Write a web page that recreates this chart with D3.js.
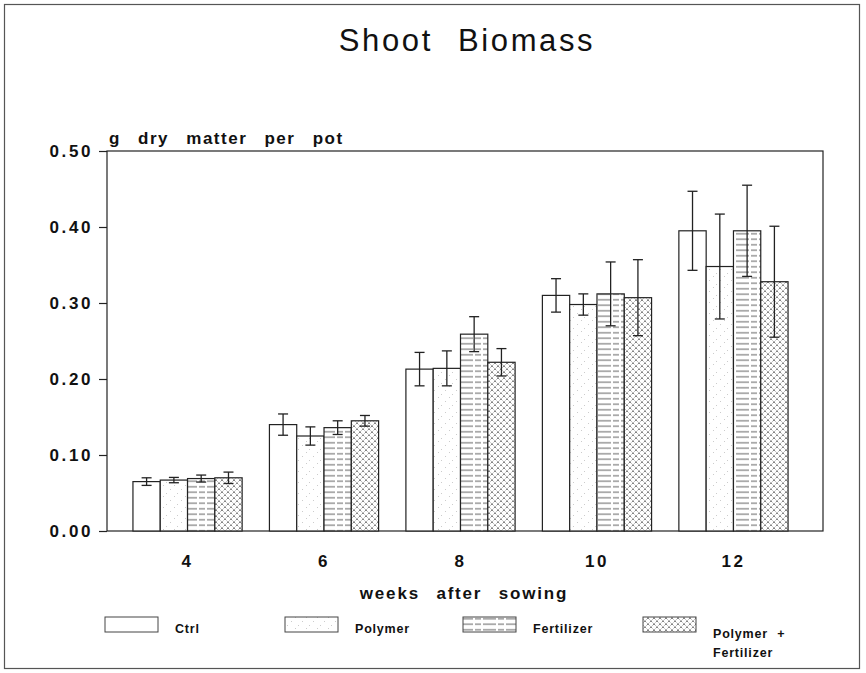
<!DOCTYPE html>
<html>
<head>
<meta charset="utf-8">
<script src="https://cdn.jsdelivr.net/npm/d3@7"></script>
<style>
  body { margin: 0; background: #fff; }
  svg { display: block; }
  text { font-family: "Liberation Sans", Arial, sans-serif; fill: #111; }
</style>
</head>
<body>
<div id="chart"></div>
<script>
// ---- data ----
const weeks = ["4", "6", "8", "10", "12"];
const treatments = ["Ctrl", "Polymer", "Fertilizer", "Polymer + Fertilizer"];
const ctrlMean = [0.065, 0.140, 0.213, 0.310, 0.395];
const ctrlErr = [0.005, 0.014, 0.022, 0.022, 0.052];
const polymerMean = [0.067, 0.125, 0.214, 0.298, 0.348];
const polymerErr = [0.0035, 0.012, 0.023, 0.014, 0.069];
const fertMean = [0.069, 0.136, 0.259, 0.312, 0.395];
const fertErr = [0.0046, 0.009, 0.023, 0.042, 0.060];
const polyFertMean = [0.070, 0.145, 0.222, 0.307, 0.328];
const polyFertErr = [0.0075, 0.007, 0.018, 0.050, 0.073];
const yTicks = [0, 0.1, 0.2, 0.3, 0.4, 0.5];

const means = [ctrlMean, polymerMean, fertMean, polyFertMean];
const errs = [ctrlErr, polymerErr, fertErr, polyFertErr];

const W = 866, H = 673;
const svg = d3.select("#chart").append("svg").attr("width", W).attr("height", H);

// patterns
const defs = svg.append("defs");
// Polymer: faint speckle
const p1 = defs.append("pattern").attr("id", "pat1").attr("patternUnits", "userSpaceOnUse")
  .attr("width", 11).attr("height", 11);
p1.append("rect").attr("width", 11).attr("height", 11).attr("fill", "#fff");
[[1,9],[5,5],[9,1]].forEach(([x,y]) => p1.append("rect").attr("x", x).attr("y", y)
  .attr("width", 1).attr("height", 1).attr("fill", "#ccc"));
// Fertilizer: horizontal dashed lines
const p2 = defs.append("pattern").attr("id", "pat2").attr("patternUnits", "userSpaceOnUse")
  .attr("width", 23).attr("height", 5.5);
p2.append("rect").attr("width", 23).attr("height", 5.5).attr("fill", "#fff");
p2.append("line").attr("x1", 0).attr("x2", 23).attr("y1", 2.75).attr("y2", 2.75)
  .attr("stroke", "#555").attr("stroke-width", 1).attr("stroke-dasharray", "13,2,6,2");
// Polymer + Fertilizer: dotted crosshatch
const p3 = defs.append("pattern").attr("id", "pat3").attr("patternUnits", "userSpaceOnUse")
  .attr("width", 6).attr("height", 6);
p3.append("rect").attr("width", 6).attr("height", 6).attr("fill", "#fff");
p3.append("path").attr("d", "M0,0 L6,6 M6,0 L0,6").attr("stroke", "#666")
  .attr("stroke-width", 0.9).attr("stroke-dasharray", "1.3,0.9");
const fills = ["#fff", "url(#pat1)", "url(#pat2)", "url(#pat3)"];

// outer frame
svg.append("rect").attr("x", 4.5).attr("y", 4.5).attr("width", 855).attr("height", 664)
  .attr("fill", "none").attr("stroke", "#555").attr("stroke-width", 1.2);

// title
svg.append("text").attr("x", 467).attr("y", 51).attr("text-anchor", "middle")
  .attr("font-size", 31).attr("letter-spacing", 2.6).attr("word-spacing", 14)
  .text("Shoot Biomass");

// scales
const plotL = 107, plotR = 823, plotT = 151, plotB = 531;
const y = d3.scaleLinear().domain([0, 0.5]).range([plotB, plotT]);
const x0 = d3.scaleBand().domain(weeks).range([119.3, 801.7]).paddingInner(0.2).paddingOuter(0.1);
const x1 = d3.scaleBand().domain(treatments).range([0, x0.bandwidth()]).padding(0);

// plot frame
svg.append("rect").attr("x", plotL).attr("y", plotT).attr("width", plotR - plotL).attr("height", plotB - plotT)
  .attr("fill", "none").attr("stroke", "#222").attr("stroke-width", 1.2);

// y axis
const yAxis = d3.axisLeft(y).tickValues(yTicks).tickFormat(d3.format(".2f")).tickSize(8).tickPadding(6);
const gy = svg.append("g").attr("transform", `translate(${plotL},0)`).call(yAxis);
gy.select(".domain").remove();
gy.selectAll("line").attr("stroke", "#222").attr("stroke-width", 1.2);
gy.selectAll("text").attr("font-size", 17).attr("font-weight", "bold").attr("letter-spacing", 2.6)
  .attr("font-family", "Liberation Sans, Arial, sans-serif").attr("fill", "#111");

// x axis labels
const xAxis = d3.axisBottom(x0).tickSize(0).tickPadding(24);
const gx = svg.append("g").attr("transform", `translate(0,${plotB})`).call(xAxis);
gx.select(".domain").remove();
gx.selectAll("text").attr("font-size", 17).attr("font-weight", "bold").attr("letter-spacing", 2.5)
  .attr("font-family", "Liberation Sans, Arial, sans-serif").attr("fill", "#111");

// axis titles
svg.append("text").attr("x", 109).attr("y", 144).attr("font-size", 17).attr("font-weight", "bold")
  .attr("letter-spacing", 1.5).attr("word-spacing", 11).text("g dry matter per pot");
svg.append("text").attr("x", 464).attr("y", 599).attr("text-anchor", "middle").attr("font-size", 17)
  .attr("font-weight", "bold").attr("letter-spacing", 1.8).attr("word-spacing", 10).text("weeks after sowing");

// bars
const data = [];
weeks.forEach((w, i) => treatments.forEach((t, j) => data.push({ w, t, j, v: means[j][i], e: errs[j][i] })));

svg.append("g").selectAll("rect").data(data).join("rect")
  .attr("x", d => x0(d.w) + x1(d.t))
  .attr("y", d => y(d.v))
  .attr("width", x1.bandwidth())
  .attr("height", d => y(0) - y(d.v))
  .attr("fill", d => fills[d.j])
  .attr("stroke", "#222").attr("stroke-width", 1.2);

// error bars
const eg = svg.append("g").attr("stroke", "#222").attr("stroke-width", 1.3);
data.forEach(d => {
  const cx = x0(d.w) + x1(d.t) + x1.bandwidth() / 2;
  eg.append("line").attr("x1", cx).attr("x2", cx).attr("y1", y(d.v + d.e)).attr("y2", y(d.v - d.e));
  eg.append("line").attr("x1", cx - 5).attr("x2", cx + 5).attr("y1", y(d.v + d.e)).attr("y2", y(d.v + d.e));
  eg.append("line").attr("x1", cx - 5).attr("x2", cx + 5).attr("y1", y(d.v - d.e)).attr("y2", y(d.v - d.e));
});

// legend
const legX = [105, 285, 463, 643];
const legend = svg.append("g");
treatments.forEach((t, j) => {
  legend.append("rect").attr("x", legX[j]).attr("y", 617).attr("width", 53).attr("height", 15)
    .attr("fill", fills[j]).attr("stroke", "#444").attr("stroke-width", 1);
  const tx = legend.append("text").attr("x", legX[j] + 70).attr("y", 633)
    .attr("font-size", 12.5).attr("font-weight", "bold").attr("letter-spacing", 0.8);
  if (t === "Polymer + Fertilizer") {
    tx.attr("y", 638);
    tx.append("tspan").attr("word-spacing", 5).text("Polymer +");
    tx.append("tspan").attr("x", legX[j] + 70).attr("dy", 19).text("Fertilizer");
  } else {
    tx.text(t);
  }
});
</script>
</body>
</html>
